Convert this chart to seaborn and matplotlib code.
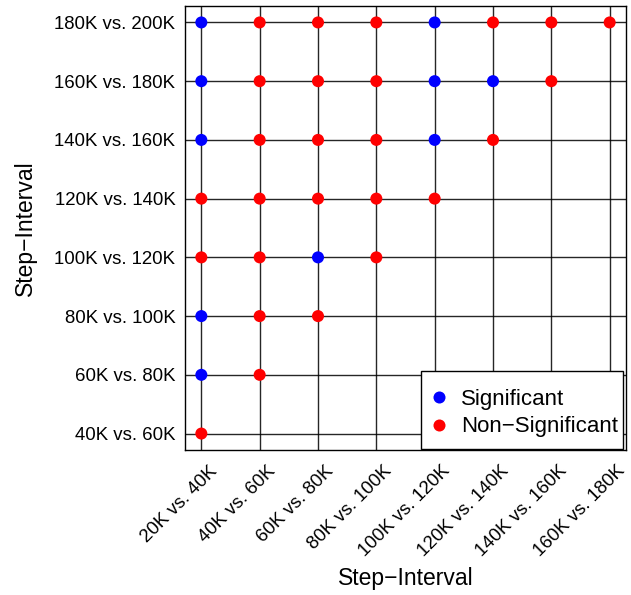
import matplotlib
matplotlib.use("Agg")
import matplotlib.pyplot as plt
from matplotlib.transforms import ScaledTranslation
from matplotlib.patches import Rectangle
import seaborn as sns
import pandas as pd

x_labels = ["20K vs. 40K", "40K vs. 60K", "60K vs. 80K", "80K vs. 100K",
            "100K vs. 120K", "120K vs. 140K", "140K vs. 160K", "160K vs. 180K"]
y_labels = ["40K vs. 60K", "60K vs. 80K", "80K vs. 100K", "100K vs. 120K",
            "120K vs. 140K", "140K vs. 160K", "160K vs. 180K", "180K vs. 200K"]

S, N = "Significant", "Non\u2212Significant"
# status per x column, from its diagonal cell upward
col_20_40 = [N, S, S, N, N, S, S, S]
col_40_60 = [N, N, N, N, N, N, N]
col_60_80 = [N, S, N, N, N, N]
col_80_100 = [N, N, N, N, N]
col_100_120 = [N, S, S, S]
col_120_140 = [N, S, N]
col_140_160 = [N, N]
col_160_180 = [N]
columns = [col_20_40, col_40_60, col_60_80, col_80_100,
           col_100_120, col_120_140, col_140_160, col_160_180]

rows = []
for i, col in enumerate(columns):
    for k, st in enumerate(col):
        rows.append({"x": i + 1, "y": i + k + 1, "status": st})
df = pd.DataFrame(rows)

sns.set_style("white")
plt.rcParams["font.family"] = ["Liberation Sans", "DejaVu Sans"]
plt.rcParams["text.color"] = "black"
plt.rcParams["axes.labelcolor"] = "black"
plt.rcParams["xtick.color"] = "black"
plt.rcParams["ytick.color"] = "black"

W, H = 631, 595
fig = plt.figure(figsize=(W / 100, H / 100), dpi=100)
ax = fig.add_axes([185 / W, (H - 450) / H, (626 - 185) / W, (450 - 6) / H])

ax.set_xlim(0.72, 8.28)
ax.set_ylim(0.72, 8.28)
ax.set_xticks(range(1, 9))
ax.set_yticks(range(1, 9))
ax.grid(True, color="black", lw=1, alpha=0.85)
ax.set_axisbelow(True)

sns.scatterplot(data=df, x="x", y="y", hue="status", hue_order=[S, N],
                palette={S: "#0000ff", N: "#ff0000"}, s=75, edgecolor="none",
                ax=ax, zorder=3, clip_on=False)

ax.set_xticklabels(x_labels, rotation=45, ha="right", va="top",
                   rotation_mode="anchor", fontsize=13.4)
ax.set_yticklabels(y_labels, fontsize=13.4)
ax.tick_params(axis="both", length=0, pad=7)
ax.tick_params(axis="x", pad=9)
shift = ScaledTranslation(0.07, 0, fig.dpi_scale_trans)
for lbl in ax.get_xticklabels():
    lbl.set_transform(lbl.get_transform() + shift)

for sp in ax.spines.values():
    sp.set_color("black")
    sp.set_linewidth(1)

ax.set_xlabel("Step\u2212Interval", fontsize=16.5, va="center")
ax.set_ylabel("Step\u2212Interval", fontsize=16.5, va="center")
ax.xaxis.set_label_coords((405.5 - 185) / 441, (450 - 578) / 444)
ax.yaxis.set_label_coords((25 - 185) / 441, (450 - 228) / 444)

# legend frame (white box with black border)
fx0, fx1, fy0, fy1 = 421, 623, 371, 449
frame = Rectangle((fx0 / W, (H - fy1) / H), (fx1 - fx0) / W, (fy1 - fy0) / H,
                  transform=fig.transFigure, facecolor="white",
                  edgecolor="black", lw=1, zorder=5)
ax.add_patch(frame)
frame.set_clip_on(False)

leg = ax.legend(loc="center", bbox_to_anchor=((fx0 + fx1) / 2 / W, (H - 413) / H),
                bbox_transform=fig.transFigure, fontsize=16, frameon=False,
                borderaxespad=0, handletextpad=0.45, markerscale=1.0,
                borderpad=0.0, labelspacing=0.3, handlelength=1.1)
leg.set_zorder(6)

fig.savefig("out.png", dpi=100)
